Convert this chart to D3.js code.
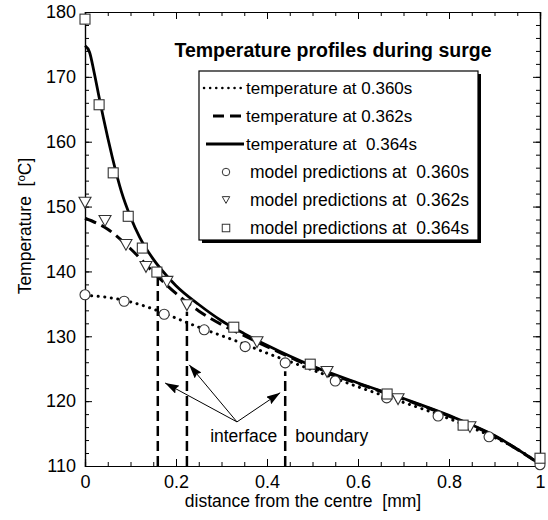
<!DOCTYPE html>
<html>
<head>
<meta charset="utf-8">
<script src="https://cdn.jsdelivr.net/npm/d3@7"></script>
<style>
  body { margin: 0; background: #fff; }
  svg text { font-family: Arial, "Liberation Sans", sans-serif; fill: #000; white-space: pre; }
</style>
</head>
<body>
<div id="chart"></div>
<script>
// profile curves (distance [mm], temperature [C])
const curve360X = [0, 0.05, 0.1, 0.15, 0.2, 0.25, 0.3, 0.35, 0.4, 0.45, 0.5, 0.55, 0.6, 0.65, 0.7, 0.75, 0.8, 0.85, 0.9, 0.95, 1.0]
const curve360T = [136.3, 136.0, 135.3, 134.2, 132.8, 131.4, 130.1, 128.8, 127.4, 126.1, 124.8, 123.5, 122.2, 121.0, 119.8, 118.6, 117.3, 115.9, 114.4, 112.6, 110.3]

const curve362X = [0, 0.05, 0.1, 0.15, 0.2, 0.25, 0.3, 0.35, 0.4, 0.45, 0.5, 0.6, 0.7, 0.8, 0.9, 1.0]
const curve362T = [148.2, 146.5, 143.5, 139.9, 136.6, 133.9, 131.8, 130.1, 128.4, 126.8, 125.2, 122.7, 120.3, 117.7, 114.6, 110.3]

const curve364X = [0, 0.01, 0.02, 0.03, 0.04, 0.05, 0.06, 0.08, 0.1, 0.12, 0.15, 0.18, 0.2, 0.25, 0.3, 0.35, 0.4, 0.5, 0.6, 0.7, 0.8, 0.9, 1.0]
const curve364T = [174.8, 173.8, 170.7, 167.2, 163.8, 160.6, 157.6, 152.3, 148.4, 145.3, 141.9, 139.3, 137.8, 134.9, 132.4, 130.4, 128.6, 125.4, 122.8, 120.4, 117.8, 114.7, 110.3]

// model predictions
const model360X = [0, 0.086, 0.174, 0.262, 0.352, 0.44, 0.55, 0.663, 0.776, 0.888, 1.0]
const model360T = [136.4, 135.4, 133.4, 131.0, 128.4, 125.9, 123.1, 120.5, 117.7, 114.5, 110.2]
const model362X = [0, 0.044, 0.09, 0.134, 0.18, 0.224, 0.378, 0.532, 0.688, 0.846]
const model362T = [150.6, 147.8, 144.1, 140.7, 138.4, 134.8, 129.1, 124.5, 120.3, 116.0]
const model364X = [0, 0.031, 0.062, 0.095, 0.126, 0.158, 0.327, 0.495, 0.664, 0.831, 1.0]
const model364T = [178.9, 165.7, 155.2, 148.5, 143.6, 139.9, 131.4, 125.7, 121.1, 116.3, 111.2]

// interface boundary markers
const interfaceX = [0.16, 0.224, 0.44]
const interfaceTop = [139.2, 133.8, 124.6]
const arrowFrom = [0.334, 116.8]
const arrowTips = [[0.176, 122.8], [0.229, 125.6], [0.429, 121.3]]

const xTicks = [0, 0.2, 0.4, 0.6, 0.8, 1]
const yTicks = [110, 120, 130, 140, 150, 160, 170, 180]

const legendLabels = ["temperature at 0.360s", "temperature at 0.362s", "temperature at  0.364s",
    "model predictions at  0.360s", "model predictions at  0.362s", "model predictions at  0.364s"]

const width = 548, height = 520
const margin = {top: 12, right: 8, bottom: 54, left: 85}

const svg = d3.select("#chart").append("svg")
    .attr("width", width)
    .attr("height", height)

const x = d3.scaleLinear().domain([0, 1]).range([margin.left, width - margin.right])
const y = d3.scaleLinear().domain([110, 180]).range([height - margin.bottom, margin.top])

const minorX = d3.range(0, 1.0001, 0.05).map(v => +v.toFixed(2))
const minorY = d3.range(110, 180.1, 2)

// axes - ticks point inward
function drawAxis(axis, tr) {
    const g = svg.append("g").attr("transform", tr).call(axis)
    g.selectAll("path.domain").attr("stroke", "#000").attr("stroke-width", 1.2)
    g.selectAll(".tick line").attr("stroke", "#000").attr("stroke-width", 1)
    g.selectAll("text").attr("font-size", 18).style("font-family", "Arial, 'Liberation Sans', sans-serif")
    return g
}
drawAxis(d3.axisBottom(x).tickValues(xTicks).tickSize(-7).tickPadding(9).tickFormat(d => d3.format("~g")(d)),
    `translate(0,${y(110)})`)
drawAxis(d3.axisBottom(x).tickValues(minorX).tickSize(-4).tickFormat(""), `translate(0,${y(110)})`)
drawAxis(d3.axisLeft(y).tickValues(yTicks).tickSize(-7).tickPadding(9), `translate(${x(0)},0)`)
drawAxis(d3.axisLeft(y).tickValues(minorY).tickSize(-4).tickFormat(""), `translate(${x(0)},0)`)
drawAxis(d3.axisTop(x).tickValues(xTicks).tickSize(-7).tickFormat(""), `translate(0,${y(180)})`)
drawAxis(d3.axisTop(x).tickValues(minorX).tickSize(-4).tickFormat(""), `translate(0,${y(180)})`)
drawAxis(d3.axisRight(y).tickValues(yTicks).tickSize(-7).tickFormat(""), `translate(${x(1)},0)`)
drawAxis(d3.axisRight(y).tickValues(minorY).tickSize(-4).tickFormat(""), `translate(${x(1)},0)`)

// axis titles
svg.append("text")
    .attr("x", 303)
    .attr("y", 507)
    .attr("text-anchor", "middle")
    .attr("font-size", 17.5)
    .text("distance from the centre  [mm]")

const yt = svg.append("text")
    .attr("transform", `translate(31,226) rotate(-90)`)
    .attr("text-anchor", "middle")
    .attr("font-size", 17.5)
yt.append("tspan").text("Temperature  [")
yt.append("tspan").attr("font-size", 11.5).attr("dy", -6).text("o")
yt.append("tspan").attr("dy", 6).text("C]")

// curves
const line = d3.line().x(d => x(d[0])).y(d => y(d[1])).curve(d3.curveMonotoneX)
const pairs = (xs, ts) => xs.map((v, i) => [v, ts[i]])

const curves = [
    {data: pairs(curve360X, curve360T), dash: "0.1,6.5", width: 3, cap: "round"},
    {data: pairs(curve362X, curve362T), dash: "12,6", width: 3, cap: "butt"},
    {data: pairs(curve364X, curve364T), dash: null, width: 2.8, cap: "butt"}
]
curves.forEach(c => {
    svg.append("path")
        .datum(c.data)
        .attr("d", line)
        .attr("fill", "none")
        .attr("stroke", "#000")
        .attr("stroke-width", c.width)
        .attr("stroke-linecap", c.cap)
        .attr("stroke-dasharray", c.dash)
})

// interface dashed verticals
svg.selectAll("line.iface")
    .data(interfaceX)
    .enter()
    .append("line")
    .attr("class", "iface")
    .attr("x1", d => x(d)).attr("x2", d => x(d))
    .attr("y1", y(110)).attr("y2", (d, i) => y(interfaceTop[i]))
    .attr("stroke", "#000")
    .attr("stroke-width", 2.5)
    .attr("stroke-dasharray", "10,5")

// markers
const markerStroke = "#333"
function drawMarker(g, type, cx, cy, s) {
    if (type === "circle") {
        g.append("circle").attr("cx", cx).attr("cy", cy).attr("r", s / 2)
    } else if (type === "tri") {
        const h = s * 0.9
        g.append("path").attr("d", `M${cx - s / 2},${cy - h / 2}L${cx + s / 2},${cy - h / 2}L${cx},${cy + h / 2}Z`)
    } else {
        g.append("rect").attr("x", cx - s / 2).attr("y", cy - s / 2).attr("width", s).attr("height", s)
    }
}
const markerSets = [
    {xs: model360X, ts: model360T, type: "circle", size: 10},
    {xs: model362X, ts: model362T, type: "tri", size: 12},
    {xs: model364X, ts: model364T, type: "rect", size: 10}
]
markerSets.forEach(m => {
    const g = svg.append("g").attr("fill", "#fff").attr("stroke", markerStroke).attr("stroke-width", 1.1)
    m.xs.forEach((v, i) => drawMarker(g, m.type, x(v), y(m.ts[i]), m.size))
})

// arrows
svg.append("defs").append("marker")
    .attr("id", "arrowhead")
    .attr("viewBox", "0 0 14 9")
    .attr("refX", 14).attr("refY", 4.5)
    .attr("markerWidth", 14).attr("markerHeight", 9)
    .attr("markerUnits", "userSpaceOnUse")
    .attr("orient", "auto")
    .append("path").attr("d", "M0,0L14,4.5L0,9L2,4.5Z").attr("fill", "#000")

svg.selectAll("line.arrow")
    .data(arrowTips)
    .enter()
    .append("line")
    .attr("x1", x(arrowFrom[0])).attr("y1", y(arrowFrom[1]))
    .attr("x2", d => x(d[0])).attr("y2", d => y(d[1]))
    .attr("stroke", "#000")
    .attr("stroke-width", 1)
    .attr("marker-end", "url(#arrowhead)")

svg.append("text").attr("x", x(0.275)).attr("y", y(113.7)).attr("font-size", 17.5).text("interface")
svg.append("text").attr("x", x(0.462)).attr("y", y(113.7)).attr("font-size", 17.5).text("boundary")

// title
svg.append("text")
    .attr("x", 333).attr("y", 57)
    .attr("text-anchor", "middle")
    .attr("font-size", 19.5)
    .attr("font-weight", "bold")
    .text("Temperature profiles during surge")

// legend
const lg = svg.append("g")
const lx = 199, ly = 71, lw = 279, lh = 169
lg.append("rect").attr("x", lx + 3).attr("y", ly + 3).attr("width", lw).attr("height", lh).attr("fill", "#000")
lg.append("rect").attr("x", lx).attr("y", ly).attr("width", lw).attr("height", lh)
    .attr("fill", "#fff").attr("stroke", "#000").attr("stroke-width", 1.2)

const rowY = i => 94 + i * 28
curves.forEach((c, i) => {
    const x1 = [204, 213, 206][i]
    lg.append("line")
        .attr("x1", x1).attr("x2", 244)
        .attr("y1", rowY(i) - 6).attr("y2", rowY(i) - 6)
        .attr("stroke", "#000")
        .attr("stroke-width", i === 0 ? 2.5 : c.width)
        .attr("stroke-dasharray", i === 0 ? "0.1,6" : (i === 1 ? "11,6" : null))
        .attr("stroke-linecap", c.cap)
})
markerSets.forEach((m, i) => {
    const g = lg.append("g").attr("fill", "#fff").attr("stroke", markerStroke).attr("stroke-width", 1)
    drawMarker(g, m.type, 226, rowY(i + 3) - 6, 7.5)
})
lg.selectAll("text.leg")
    .data(legendLabels)
    .enter()
    .append("text")
    .attr("x", (d, i) => i < 3 ? 246 : 250)
    .attr("y", (d, i) => rowY(i))
    .attr("font-size", (d, i) => i < 3 ? 17 : 17.5)
    .text(d => d)
</script>
</body>
</html>
